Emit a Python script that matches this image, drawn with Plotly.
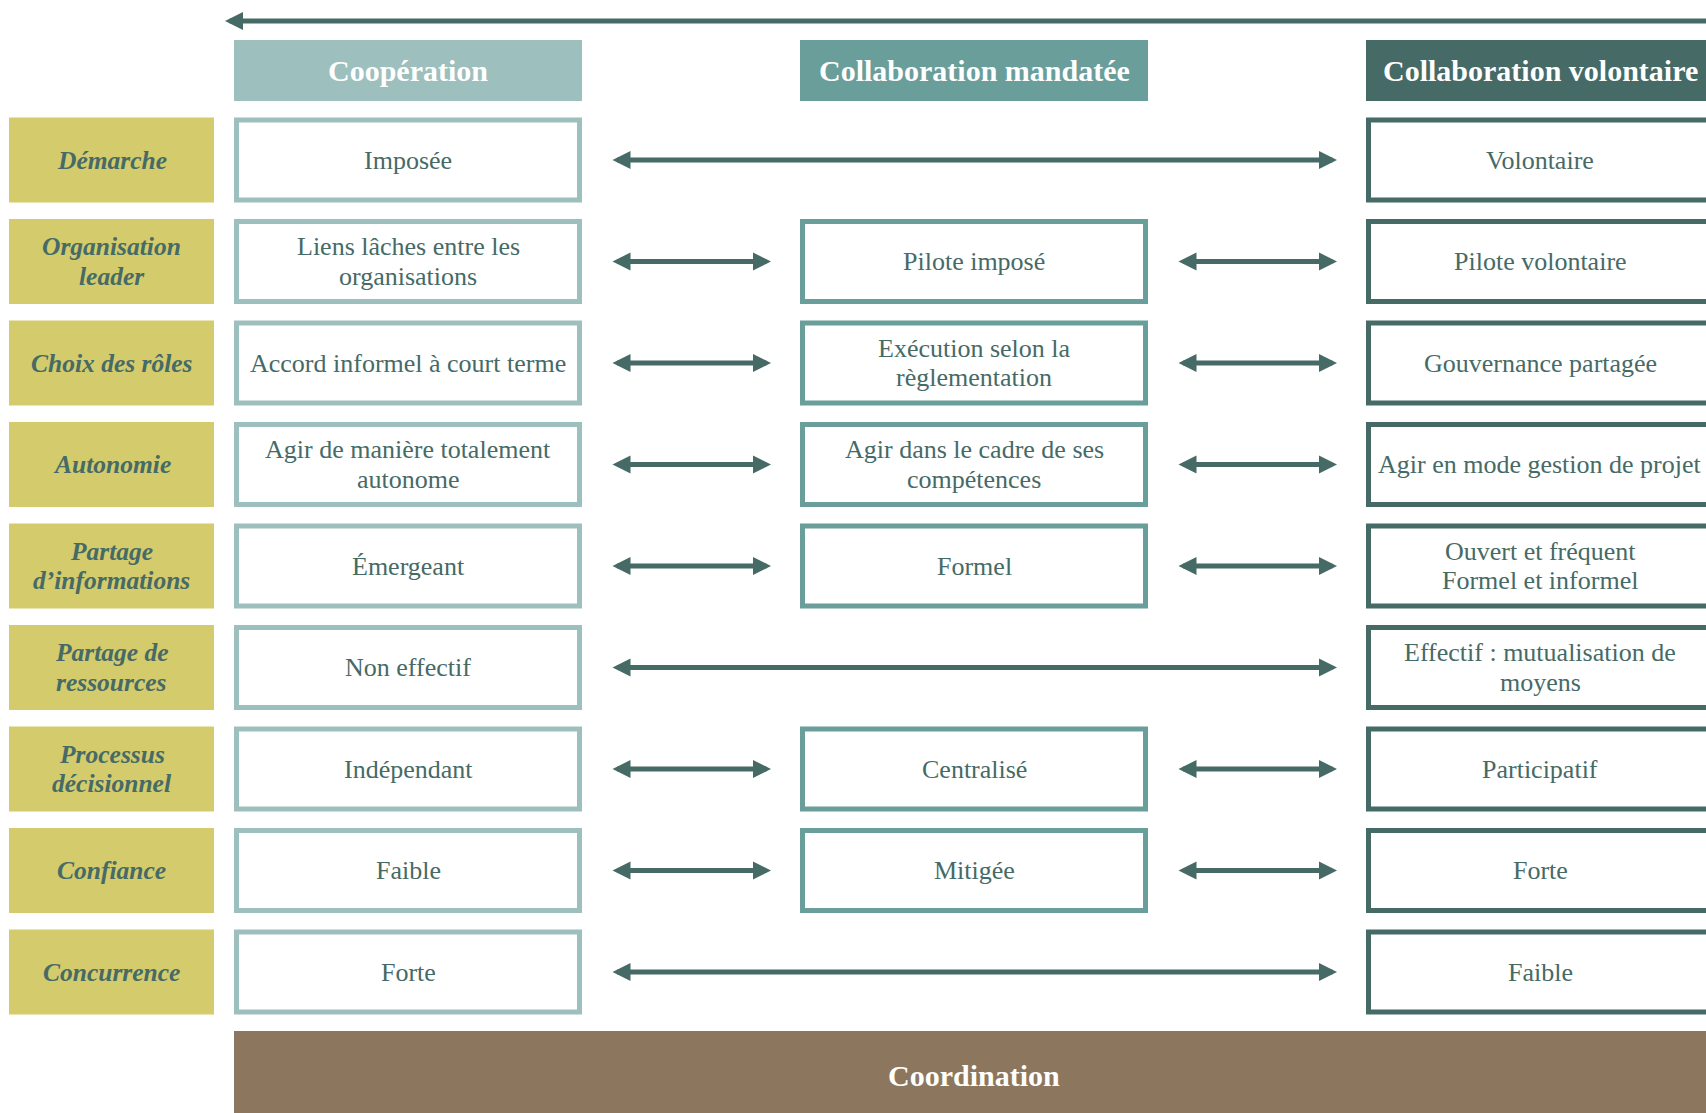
import plotly.graph_objects as go

# ---------------- data ----------------
columns = ["Coopération", "Collaboration mandatée", "Collaboration volontaire"]
criteria = ["Démarche", "Organisation<br>leader", "Choix des rôles", "Autonomie",
            "Partage<br>d’informations", "Partage de<br>ressources", "Processus<br>décisionnel",
            "Confiance", "Concurrence"]
cooperation = ["Imposée", "Liens lâches entre les<br>organisations", "Accord informel à court terme",
               "Agir de manière totalement<br>autonome", "Émergeant", "Non effectif",
               "Indépendant", "Faible", "Forte"]
mandatee = [None, "Pilote imposé", "Exécution selon la<br>règlementation",
            "Agir dans le cadre de ses<br>compétences", "Formel", None,
            "Centralisé", "Mitigée", None]
volontaire = ["Volontaire", "Pilote volontaire", "Gouvernance partagée",
              "Agir en mode gestion de projet", "Ouvert et fréquent<br>Formel et informel",
              "Effectif : mutualisation de<br>moyens", "Participatif", "Forte", "Faible"]
bottom_label = "Coordination"

# ---------------- styles / layout ----------------
W, H = 1706, 1113
header_colors = ["#9dbfbd", "#6a9e9a", "#466a66"]
label_fill = "#d3cb6c"
text_color = "#466a66"
arrow_color = "#466a66"
bar_color = "#8c775e"
FONT = "Liberation Serif"

col_x0 = [234, 800, 1366]
col_w = 348
lab_x0, lab_x1 = 9, 214
head_y0, head_y1 = 40, 101
row_y0, row_pitch, row_h = 117.5, 101.5, 85
bw = 5  # border width
gap = 29
line_gap = 29.5

fig = go.Figure()
fig.add_trace(go.Scatter(x=[0, W], y=[0, H], mode="markers",
                         marker=dict(opacity=0), hoverinfo="skip", showlegend=False))

shapes = []
annotations = []


def add_text(xc, yc, txt, size, color, bold=False, italic=False):
    lines = txt.split("<br>")
    n = len(lines)
    for k, ln in enumerate(lines):
        t = ln
        if italic:
            t = f"<i>{t}</i>"
        if bold:
            t = f"<b>{t}</b>"
        annotations.append(dict(x=xc, y=yc + (k - (n - 1) / 2) * line_gap, text=t,
                                showarrow=False, font=dict(family=FONT, size=size, color=color),
                                xanchor="center", yanchor="middle"))


# headers
for j, name in enumerate(columns):
    x0 = col_x0[j]
    shapes.append(dict(type="rect", x0=x0, x1=x0 + col_w, y0=head_y0, y1=head_y1,
                       fillcolor=header_colors[j], line=dict(width=0), layer="below"))
    add_text(x0 + col_w / 2, (head_y0 + head_y1) / 2, name, 30, "white", bold=True)

cols_data = [cooperation, mandatee, volontaire]
for i, crit in enumerate(criteria):
    y0 = row_y0 + i * row_pitch
    y1 = y0 + row_h
    yc = (y0 + y1) / 2
    shapes.append(dict(type="rect", x0=lab_x0, x1=lab_x1, y0=y0, y1=y1,
                       fillcolor=label_fill, line=dict(width=0), layer="below"))
    add_text((lab_x0 + lab_x1) / 2, yc, crit, 25.5, text_color, bold=True, italic=True)
    present = []
    for j in range(3):
        txt = cols_data[j][i]
        if txt is None:
            continue
        present.append(j)
        x0 = col_x0[j]
        shapes.append(dict(type="rect", x0=x0 + bw / 2, x1=x0 + col_w - bw / 2,
                           y0=y0 + bw / 2, y1=y1 - bw / 2, fillcolor="white",
                           line=dict(color=header_colors[j], width=bw), layer="below"))
        add_text(x0 + col_w / 2, yc, txt, 26, text_color)
    # arrows between consecutive present boxes
    for a, b in zip(present[:-1], present[1:]):
        xs = col_x0[a] + col_w + gap
        xe = col_x0[b] - gap
        annotations.append(dict(x=xe, y=yc, ax=xs, ay=yc, axref="x", ayref="y",
                                xref="x", yref="y", text="", showarrow=True,
                                arrowside="end+start", arrowhead=2, arrowsize=0.72,
                                arrowwidth=5, arrowcolor=arrow_color, standoff=0, startstandoff=0))

# top arrow (pointing left)
annotations.append(dict(x=225, y=21, ax=W + 20, ay=21, axref="x", ayref="y",
                        xref="x", yref="y", text="", showarrow=True, arrowside="end",
                        arrowhead=2, arrowsize=0.72, arrowwidth=5, arrowcolor=arrow_color,
                        standoff=0))

# bottom coordination bar
bar_y0 = 1031
shapes.append(dict(type="rect", x0=col_x0[0], x1=col_x0[2] + col_w, y0=bar_y0, y1=H + 20,
                   fillcolor=bar_color, line=dict(width=0), layer="below"))
add_text((col_x0[0] + col_x0[2] + col_w) / 2, 1075, bottom_label, 30, "white", bold=True)

fig.update_layout(
    width=W, height=H, margin=dict(l=0, r=0, t=0, b=0),
    paper_bgcolor="white", plot_bgcolor="white",
    xaxis=dict(range=[0, W], visible=False, fixedrange=True),
    yaxis=dict(range=[H, 0], visible=False, fixedrange=True),
    shapes=shapes, annotations=annotations, showlegend=False,
)

fig.write_html("out.html", config={"displayModeBar": False},
               post_script="document.body.style.margin='0';document.body.style.overflow='hidden';")
